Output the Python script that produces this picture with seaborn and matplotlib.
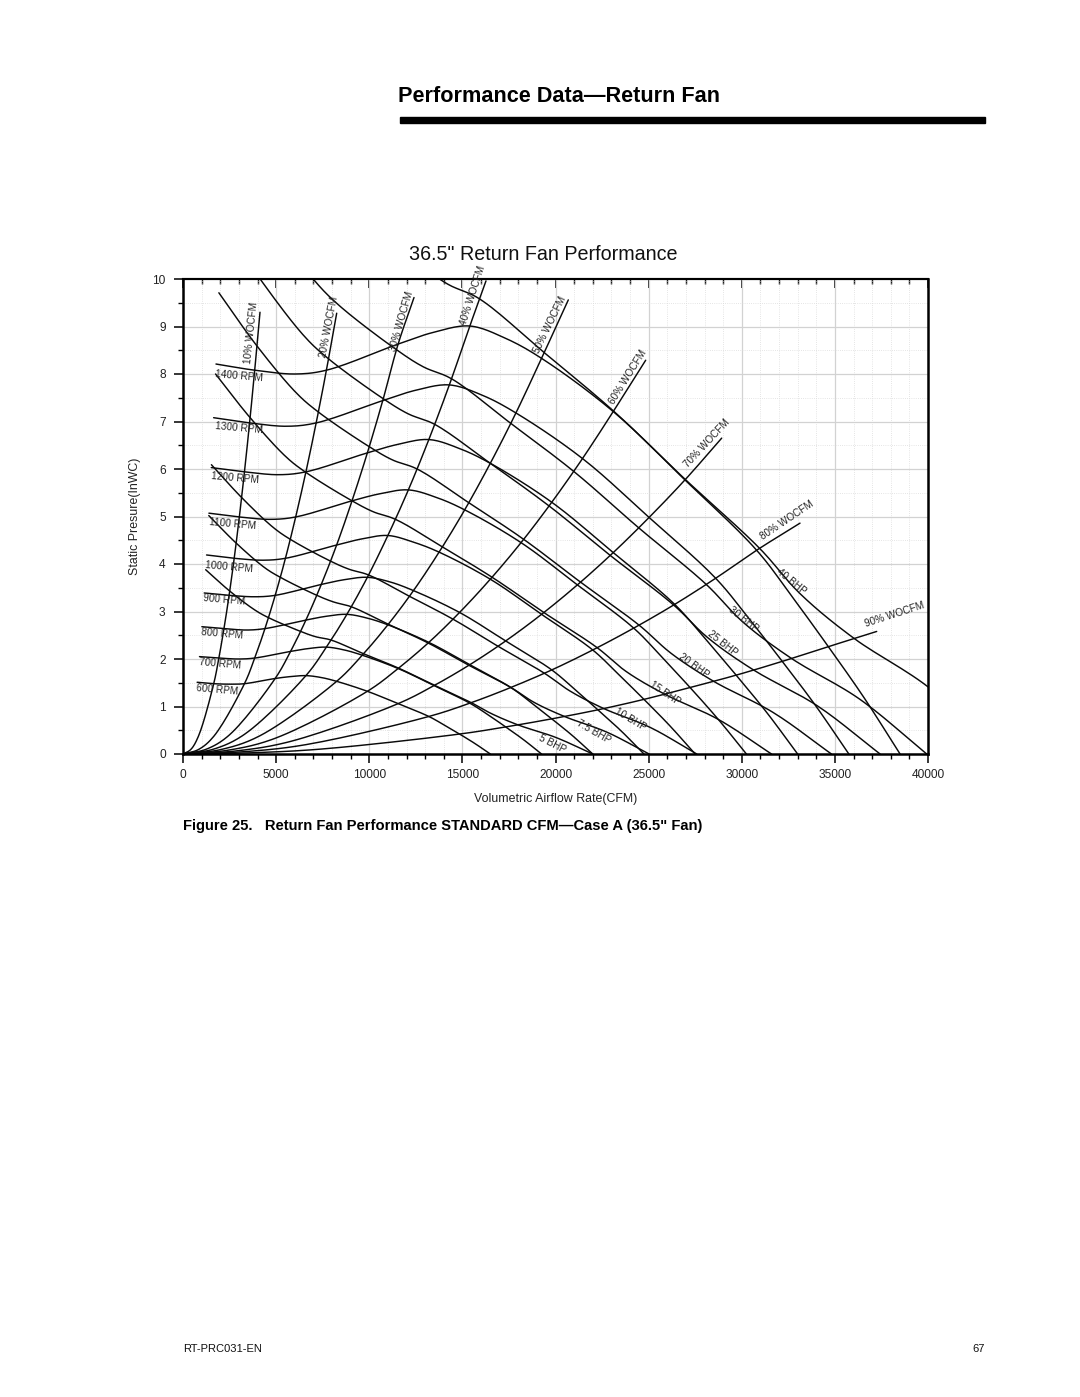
import numpy as np
import matplotlib
matplotlib.use("Agg")
import matplotlib.pyplot as plt
from matplotlib.ticker import MultipleLocator
from matplotlib.patches import Rectangle
import seaborn as sns

# ---------------- data ----------------
# fraction of wide-open CFM at which each fan-speed curve was read
wocfm_fraction = [0.046, 0.10, 0.156, 0.20, 0.30, 0.35, 0.40, 0.45, 0.50,
                  0.60, 0.70, 0.80, 0.85, 0.90, 0.95, 1.00]

rpm_speeds = [600, 700, 800, 900, 1000, 1100, 1200, 1300, 1400]
rpm_max_cfm = [16500, 19250, 22000, 24750, 27500, 30250, 33000, 35750, 38500]

psi_600 = [1.51, 1.48, 1.47, 1.48, 1.59, 1.63, 1.65, 1.61, 1.53, 1.32, 1.06, 0.79, 0.61, 0.42, 0.22, 0.0]
psi_700 = [2.05, 2.02, 2.00, 2.02, 2.16, 2.22, 2.25, 2.19, 2.08, 1.80, 1.44, 1.07, 0.83, 0.57, 0.30, 0.0]
psi_800 = [2.68, 2.64, 2.61, 2.64, 2.82, 2.90, 2.94, 2.86, 2.72, 2.35, 1.88, 1.40, 1.08, 0.74, 0.39, 0.0]
psi_900 = [3.39, 3.34, 3.31, 3.34, 3.57, 3.67, 3.72, 3.62, 3.44, 2.98, 2.38, 1.77, 1.36, 0.93, 0.49, 0.0]
psi_1000 = [4.19, 4.12, 4.08, 4.12, 4.40, 4.53, 4.60, 4.46, 4.25, 3.68, 2.94, 2.19, 1.68, 1.15, 0.60, 0.0]
psi_1100 = [5.07, 4.99, 4.94, 4.99, 5.33, 5.48, 5.56, 5.40, 5.14, 4.45, 3.56, 2.65, 2.04, 1.40, 0.73, 0.0]
psi_1200 = [6.03, 5.94, 5.88, 5.94, 6.34, 6.52, 6.62, 6.43, 6.12, 5.30, 4.24, 3.15, 2.42, 1.66, 0.87, 0.0]
psi_1300 = [7.08, 6.97, 6.90, 6.97, 7.44, 7.66, 7.77, 7.55, 7.18, 6.22, 4.98, 3.70, 2.85, 1.95, 1.02, 0.0]
psi_1400 = [8.21, 8.08, 8.00, 8.08, 8.63, 8.88, 9.01, 8.75, 8.33, 7.21, 5.77, 4.29, 3.30, 2.26, 1.18, 0.0]
rpm_psi = {600: psi_600, 700: psi_700, 800: psi_800, 900: psi_900, 1000: psi_1000,
           1100: psi_1100, 1200: psi_1200, 1300: psi_1300, 1400: psi_1400}

rpm_label_cfm = [1861, 1987, 2111, 2219, 2487, 2649, 2792, 3025, 3025]
rpm_label_psi = [1.35, 1.89, 2.52, 3.24, 3.94, 4.84, 5.80, 6.86, 7.96]

# percent wide-open CFM (system) lines
wocfm_pct = [10, 20, 30, 40, 50, 60, 70, 80, 90]
wocfm_low1_cfm = [412, 825, 1238, 1650, 2062, 2475, 2888, 3300, 3712]
wocfm_low1_psi = [0.093, 0.093, 0.099, 0.103, 0.096, 0.083, 0.066, 0.049, 0.026]
wocfm_low2_cfm = [825, 1650, 2475, 3300, 4125, 4950, 5775, 6600, 7425]
wocfm_low2_psi = [0.371, 0.371, 0.396, 0.414, 0.383, 0.331, 0.265, 0.197, 0.104]
wocfm_end_cfm = [4134, 8252, 12403, 16268, 20688, 24842, 28923, 33128, 37245]
wocfm_end_psi = [9.30, 9.28, 9.61, 9.96, 9.56, 8.29, 6.65, 4.86, 2.58]
wocfm_label_cfm = [3687, 7856, 11740, 15553, 19705, 23910, 28116, 32411, 38228]
wocfm_label_psi = [8.86, 9.00, 9.10, 9.66, 9.03, 7.94, 6.54, 4.93, 2.93]
wocfm_label_rot = [84, 79, 74, 72, 64, 58, 47, 34, 18]

# brake horsepower lines
bhp_5_cfm = [1217, 2509, 3863, 4591, 6318, 7111, 7943, 9697, 11558, 13484, 15479, 16559, 18004, 20007, 22000]
bhp_5_psi = [3.88, 3.43, 3.03, 2.87, 2.58, 2.47, 2.40, 2.11, 1.81, 1.45, 1.08, 0.85, 0.61, 0.35, 0.00]
bhp_7_5_cfm = [1384, 2854, 4394, 5223, 7187, 8089, 9035, 11030, 13147, 15338, 17608, 18836, 20480, 22758, 25025]
bhp_7_5_psi = [5.02, 4.44, 3.92, 3.72, 3.34, 3.20, 3.10, 2.73, 2.34, 1.87, 1.40, 1.09, 0.79, 0.46, 0.00]
bhp_10_cfm = [1526, 3146, 4843, 5757, 7921, 8915, 9958, 12157, 14490, 16906, 19407, 20761, 22573, 25084, 27583]
bhp_10_psi = [6.09, 5.40, 4.77, 4.52, 4.06, 3.89, 3.77, 3.32, 2.84, 2.27, 1.70, 1.33, 0.96, 0.56, 0.00]
bhp_15_cfm = [1748, 3604, 5548, 6594, 9074, 10213, 11408, 13927, 16600, 19366, 22232, 23783, 25858, 28735, 31598]
bhp_15_psi = [8.00, 7.08, 6.25, 5.93, 5.33, 5.10, 4.94, 4.36, 3.72, 2.98, 2.24, 1.74, 1.26, 0.73, 0.00]
bhp_20_cfm = [1926, 3971, 6113, 7266, 9998, 11253, 12570, 15345, 18290, 21338, 24496, 26205, 28491, 31661, 34815]
bhp_20_psi = [9.71, 8.59, 7.59, 7.20, 6.47, 6.19, 6.00, 5.29, 4.52, 3.62, 2.71, 2.12, 1.53, 0.88, 0.00]
bhp_25_cfm = [2070, 4269, 6572, 7811, 10749, 12097, 13513, 16497, 19662, 22940, 26334, 28171, 30629, 34037, 37428]
bhp_25_psi = [11.22, 9.93, 8.77, 8.32, 7.48, 7.16, 6.94, 6.12, 5.22, 4.18, 3.14, 2.45, 1.77, 1.02, 0.00]
bhp_30_cfm = [2209, 4554, 7011, 8333, 11467, 12906, 14416, 17600, 20977, 24473, 28095, 30055, 32677, 36313, 39930]
bhp_30_psi = [12.77, 11.31, 9.99, 9.46, 8.51, 8.15, 7.90, 6.96, 5.95, 4.76, 3.57, 2.78, 2.01, 1.16, 0.00]
bhp_40_cfm = [2434, 5018, 7726, 9183, 12636, 14222, 15886, 19394, 23115, 26968, 30958, 33118, 36008, 40014, 44000]
bhp_40_psi = [15.51, 13.73, 12.12, 11.49, 10.33, 9.89, 9.59, 8.45, 7.22, 5.78, 4.33, 3.38, 2.44, 1.41, 0.00]

bhp_names = ["5", "7.5", "10", "15", "20", "25", "30", "40"]
bhp_curves = [(bhp_5_cfm, bhp_5_psi), (bhp_7_5_cfm, bhp_7_5_psi), (bhp_10_cfm, bhp_10_psi),
              (bhp_15_cfm, bhp_15_psi), (bhp_20_cfm, bhp_20_psi), (bhp_25_cfm, bhp_25_psi),
              (bhp_30_cfm, bhp_30_psi), (bhp_40_cfm, bhp_40_psi)]
bhp_label_cfm = [19850, 22030, 24000, 25880, 27400, 28957, 30085, 32644]
bhp_label_psi = [0.22, 0.47, 0.72, 1.28, 1.86, 2.34, 2.84, 3.63]
bhp_label_rot = [-27, -30, -31, -34, -36, -38, -38, -39]

x_ticks = [0, 5000, 10000, 15000, 20000, 25000, 30000, 35000, 40000]
y_ticks = [0, 1, 2, 3, 4, 5, 6, 7, 8, 9, 10]

# ---------------- drawing helpers ----------------
XSCALE = 745.0 / 40000.0   # px per CFM (for isotropic spline smoothing)
YSCALE = 47.5              # px per inWC


def spline(xs, ys, n=14):
    """centripetal Catmull-Rom curve through the read points (drawing style)."""
    P = np.column_stack([np.asarray(xs, float) * XSCALE, np.asarray(ys, float) * YSCALE])
    P = np.vstack([2 * P[0] - P[1], P, 2 * P[-1] - P[-2]])
    out = []
    for i in range(1, len(P) - 2):
        p0, p1, p2, p3 = P[i - 1], P[i], P[i + 1], P[i + 2]
        t0 = 0.0
        t1 = t0 + np.linalg.norm(p1 - p0) ** 0.5
        t2 = t1 + np.linalg.norm(p2 - p1) ** 0.5
        t3 = t2 + np.linalg.norm(p3 - p2) ** 0.5
        t = np.linspace(t1, t2, n, endpoint=False)[:, None]
        A1 = (t1 - t) / (t1 - t0) * p0 + (t - t0) / (t1 - t0) * p1
        A2 = (t2 - t) / (t2 - t1) * p1 + (t - t1) / (t2 - t1) * p2
        A3 = (t3 - t) / (t3 - t2) * p2 + (t - t2) / (t3 - t2) * p3
        B1 = (t2 - t) / (t2 - t0) * A1 + (t - t0) / (t2 - t0) * A2
        B2 = (t3 - t) / (t3 - t1) * A2 + (t - t1) / (t3 - t1) * A3
        out.append((t2 - t) / (t2 - t1) * B1 + (t - t1) / (t2 - t1) * B2)
    out.append(P[-2][None, :])
    out = np.vstack(out)
    return out[:, 0] / XSCALE, out[:, 1] / YSCALE


sns.set_theme(style="white")
plt.rcParams['font.family'] = ['Liberation Sans', 'DejaVu Sans']

fig = plt.figure(figsize=(10.8, 13.97), dpi=100)
ax = fig.add_axes([183 / 1080, 1 - 754 / 1397, 745 / 1080, 475 / 1397])

LW = 1.05
INK = "#0a0a0a"
LBL = 7.2


def draw(xs, ys):
    sx, sy = spline(xs, ys)
    sns.lineplot(x=sx, y=sy, sort=False, estimator=None, color=INK, linewidth=LW, ax=ax)


# fan speed curves
for n, qmax in zip(rpm_speeds, rpm_max_cfm):
    draw([f * qmax for f in wocfm_fraction], rpm_psi[n])
for n, lx, ly in zip(rpm_speeds, rpm_label_cfm, rpm_label_psi):
    ax.text(lx, ly, f"{n} RPM", fontsize=LBL, color="#222222", rotation=-5,
            ha="center", va="center", rotation_mode="anchor")

# % wide-open CFM lines
for i, pct in enumerate(wocfm_pct):
    k = wocfm_fraction.index(round(pct / 100, 2))
    xs = [0, wocfm_low1_cfm[i], wocfm_low2_cfm[i]] + [wocfm_fraction[k] * q for q in rpm_max_cfm] + [wocfm_end_cfm[i]]
    ys = [0, wocfm_low1_psi[i], wocfm_low2_psi[i]] + [rpm_psi[n][k] for n in rpm_speeds] + [wocfm_end_psi[i]]
    draw(xs, ys)
    ax.text(wocfm_label_cfm[i], wocfm_label_psi[i], f"{pct}% WOCFM", fontsize=LBL, color="#222222",
            rotation=wocfm_label_rot[i], ha="center", va="center", rotation_mode="anchor")

# BHP lines
for name, (cx, cy), lx, ly, rot in zip(bhp_names, bhp_curves, bhp_label_cfm, bhp_label_psi, bhp_label_rot):
    draw(cx, cy)
    ax.text(lx, ly, f"{name} BHP", fontsize=LBL, color="#222222", rotation=rot,
            ha="center", va="center", rotation_mode="anchor")

# axes styling
ax.set_xlim(0, 40000)
ax.set_ylim(0, 10)
ax.set_xticks(x_ticks)
ax.set_xticklabels([str(v) for v in x_ticks])
ax.set_yticks(y_ticks)
ax.set_yticklabels([str(v) for v in y_ticks])
ax.xaxis.set_minor_locator(MultipleLocator(1000))
ax.yaxis.set_minor_locator(MultipleLocator(0.5))
ax.set_axisbelow(True)
ax.grid(which="major", color="#d2d2d2", linewidth=0.9, linestyle="-")
ax.grid(which="minor", color="#dcdcdc", linewidth=0.6, linestyle=(0, (1, 1.6)))
ax.tick_params(axis="both", which="both", bottom=True, left=True, top=False, right=False)
ax.tick_params(axis="both", which="major", direction="out", length=6.5, width=1.1,
               color="black", labelsize=8.6, labelcolor="#222222")
ax.tick_params(axis="both", which="minor", direction="out", length=3.5, width=1.0, color="black")
ax.tick_params(axis="x", pad=4)
ax.tick_params(axis="y", pad=6)
for side, w in [("left", 1.8), ("bottom", 1.8), ("right", 1.8), ("top", 1.5)]:
    ax.spines[side].set_visible(True)
    ax.spines[side].set_color("black")
    ax.spines[side].set_linewidth(w)

top = ax.secondary_xaxis("top")
top.set_xticks(x_ticks)
top.xaxis.set_minor_locator(MultipleLocator(1000))
top.tick_params(axis="x", which="both", top=True, labeltop=False)
top.tick_params(axis="x", which="major", direction="in", length=6.5, width=1.1, color="black")
top.tick_params(axis="x", which="minor", direction="in", length=3.5, width=1.0, color="black")
top.spines["top"].set_linewidth(1.5)

ax.set_xlabel("Volumetric Airflow Rate(CFM)", fontsize=8.9, color="#222222", labelpad=9)
ax.set_ylabel("Static Presure(InWC)", fontsize=8.9, color="#222222", labelpad=8)

# page texts
fig.text(543 / 1080, 1 - 255 / 1397, '36.5" Return Fan Performance', fontsize=14.2,
         ha="center", va="center", color="#111111")
fig.text(398 / 1080, 1 - 97 / 1397, "Performance Data\u2014Return Fan", fontsize=15.6,
         fontweight="bold", ha="left", va="center", color="black")
fig.patches.append(Rectangle((400 / 1080, 1 - 122.5 / 1397), 585 / 1080, 5 / 1397,
                             transform=fig.transFigure, color="black", zorder=5))
fig.text(183 / 1080, 1 - 826 / 1397,
         'Figure 25.   Return Fan Performance STANDARD CFM\u2014Case A (36.5" Fan)',
         fontsize=10.6, fontweight="bold", ha="left", va="center", color="black")
fig.text(183 / 1080, 1 - 1349 / 1397, "RT-PRC031-EN", fontsize=8, ha="left", va="center", color="#111111")
fig.text(985 / 1080, 1 - 1349 / 1397, "67", fontsize=8, ha="right", va="center", color="#111111")

fig.savefig("out.png", dpi=100, facecolor="white")
